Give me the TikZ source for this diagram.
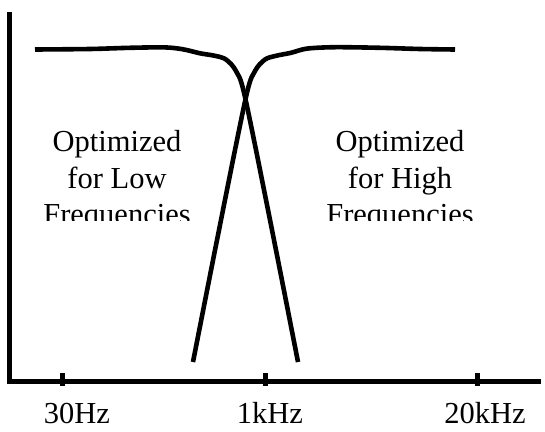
\documentclass[tikz,border=0pt]{standalone}
\usepackage{fontspec}
\setmainfont{Liberation Serif}
\newfontfamily\tmsfont{Liberation Serif}
\begin{document}
\begin{tikzpicture}[x=1pt, y=-1pt,
		curve/.style={line width=4.6pt, smooth, tension=0.5},
		axis/.style={line width=5pt},
		tick/.style={line width=5pt},
		lbl/.style={font=\tmsfont\fontsize{30.5}{36.5}\selectfont, align=center, inner sep=0pt}]
	\useasboundingbox (0,0) rectangle (545,431);
	
	% Axes
	\coordinate (ytop) at (9,12);
	\coordinate (origin) at (9,381);
	\coordinate (xend) at (541,381);
	\draw[axis] (ytop) -- (origin) -- (xend);
	
	% ticks
	\draw[tick] (62,373) -- (62,386);
	\draw[tick] (265,373) -- (265,386);
	\draw[tick] (477,373) -- (477,386);
	\node[lbl, anchor=base] (f30) at (77,423) {30Hz};
	\node[lbl, anchor=base] (f1k) at (270,423) {1kHz};
	\node[lbl, anchor=base] (f20k) at (485,423) {20kHz};
	
	% low and high curves
	\draw[curve] plot coordinates {(35,49.5) (90,49) (130,47.8) (165,47.4) (183,49.3) (200,53.3) (215,55.8) (226,59.5) (236,71) (245,97) (272,230) (298,362)};
	\draw[curve] plot coordinates {(193,362) (219,230) (246,97) (255,71) (265,59.5) (276,55.8) (291,52.8) (307,48.6) (335,47.2) (380,47.8) (420,49) (455,49.5)};
	
	% labels, cut off at the bottom
	\begin{scope}
		\clip (0,0) rectangle (545,220);
		\node[lbl, anchor=base] (low) at (117,224.5) {Optimized\\for Low\\Frequencies};
		\node[lbl, anchor=base] (high) at (400,224.5) {Optimized\\for High\\Frequencies};
	\end{scope}
\end{tikzpicture}
\end{document}
